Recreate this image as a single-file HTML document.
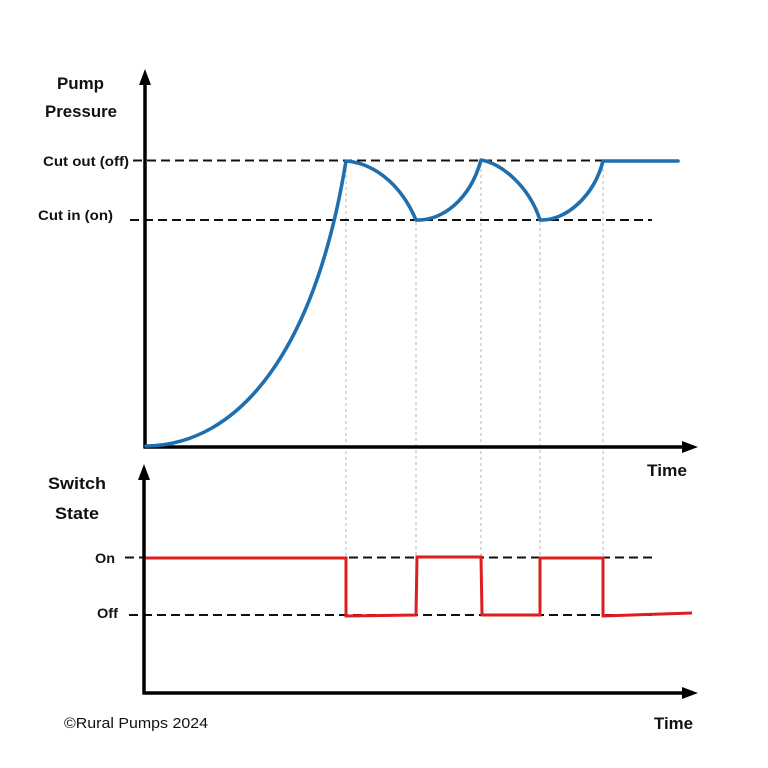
<!DOCTYPE html>
<html>
<head>
<meta charset="utf-8">
<style>
  html, body { margin: 0; padding: 0; background: #ffffff; }
  svg { display: block; }
  text { font-family: "Liberation Sans", "DejaVu Sans", sans-serif; fill: #111; }
  .b { font-weight: bold; }
</style>
</head>
<body>
<svg width="768" height="768" viewBox="0 0 768 768" xmlns="http://www.w3.org/2000/svg">
  <rect width="768" height="768" fill="#ffffff"/>

  <!-- gray dotted verticals -->
  <g stroke="#b4b4b4" stroke-width="1" stroke-dasharray="3 3" fill="none">
    <line x1="346" y1="163" x2="346" y2="557"/>
    <line x1="416" y1="222" x2="416" y2="557"/>
    <line x1="481" y1="163" x2="481" y2="557"/>
    <line x1="540" y1="222" x2="540" y2="557"/>
    <line x1="603" y1="163" x2="603" y2="557"/>
  </g>

  <!-- dashed reference lines -->
  <g stroke="#111" stroke-width="2" stroke-dasharray="9 5" fill="none">
    <line x1="133" y1="160.5" x2="652" y2="160.5"/>
    <line x1="130" y1="220" x2="652" y2="220"/>
    <line x1="125" y1="557.5" x2="652" y2="557.5"/>
    <line x1="129" y1="615" x2="652" y2="615"/>
  </g>

  <!-- axes -->
  <g stroke="#000" stroke-width="3.5" fill="none">
    <line x1="145" y1="82" x2="145" y2="448"/>
    <line x1="143.5" y1="447" x2="684" y2="447"/>
    <line x1="144" y1="477" x2="144" y2="694"/>
    <line x1="142.5" y1="693" x2="684" y2="693"/>
  </g>
  <g fill="#000">
    <polygon points="145,69 139,85 151,85"/>
    <polygon points="698,447 682,441 682,453"/>
    <polygon points="144,464 138,480 150,480"/>
    <polygon points="698,693 682,687 682,699"/>
  </g>

  <!-- blue pressure curve -->
  <path d="M146,446 C240,445 315,350 346,161
           C372,163 400,182 416,220
           C442,221 470,200 481,160
           C501,163 529,186 540,220
           C566,221 594,196 603,161
           L678,161"
        fill="none" stroke="#1f6fae" stroke-width="3.6" stroke-linejoin="round" stroke-linecap="round"/>

  <!-- red switch state -->
  <path d="M146,558 L346,558 L346,616 L416,615 L417,557 L481,557 L482,615 L540,615 L540,558 L603,558 L603,616 L692,613"
        fill="none" stroke="#de1d1f" stroke-width="3" stroke-linejoin="miter"/>

  <!-- labels -->
  <text class="b" x="57" y="89" font-size="17" textLength="47" lengthAdjust="spacingAndGlyphs">Pump</text>
  <text class="b" x="45" y="117" font-size="17" textLength="72" lengthAdjust="spacingAndGlyphs">Pressure</text>
  <text class="b" x="43" y="166" font-size="14" textLength="86" lengthAdjust="spacingAndGlyphs">Cut out (off)</text>
  <text class="b" x="38" y="220" font-size="14" textLength="75" lengthAdjust="spacingAndGlyphs">Cut in (on)</text>

  <text class="b" x="647" y="476" font-size="17" textLength="40" lengthAdjust="spacingAndGlyphs">Time</text>

  <text class="b" x="48" y="489" font-size="17" textLength="58" lengthAdjust="spacingAndGlyphs">Switch</text>
  <text class="b" x="55" y="519" font-size="17" textLength="44" lengthAdjust="spacingAndGlyphs">State</text>
  <text class="b" x="95" y="563" font-size="14" textLength="20" lengthAdjust="spacingAndGlyphs">On</text>
  <text class="b" x="97" y="618" font-size="14" textLength="21" lengthAdjust="spacingAndGlyphs">Off</text>

  <text class="b" x="654" y="729" font-size="17" textLength="39" lengthAdjust="spacingAndGlyphs">Time</text>
  <text x="64" y="728" font-size="15" textLength="144" lengthAdjust="spacingAndGlyphs">©Rural Pumps 2024</text>
</svg>
</body>
</html>
